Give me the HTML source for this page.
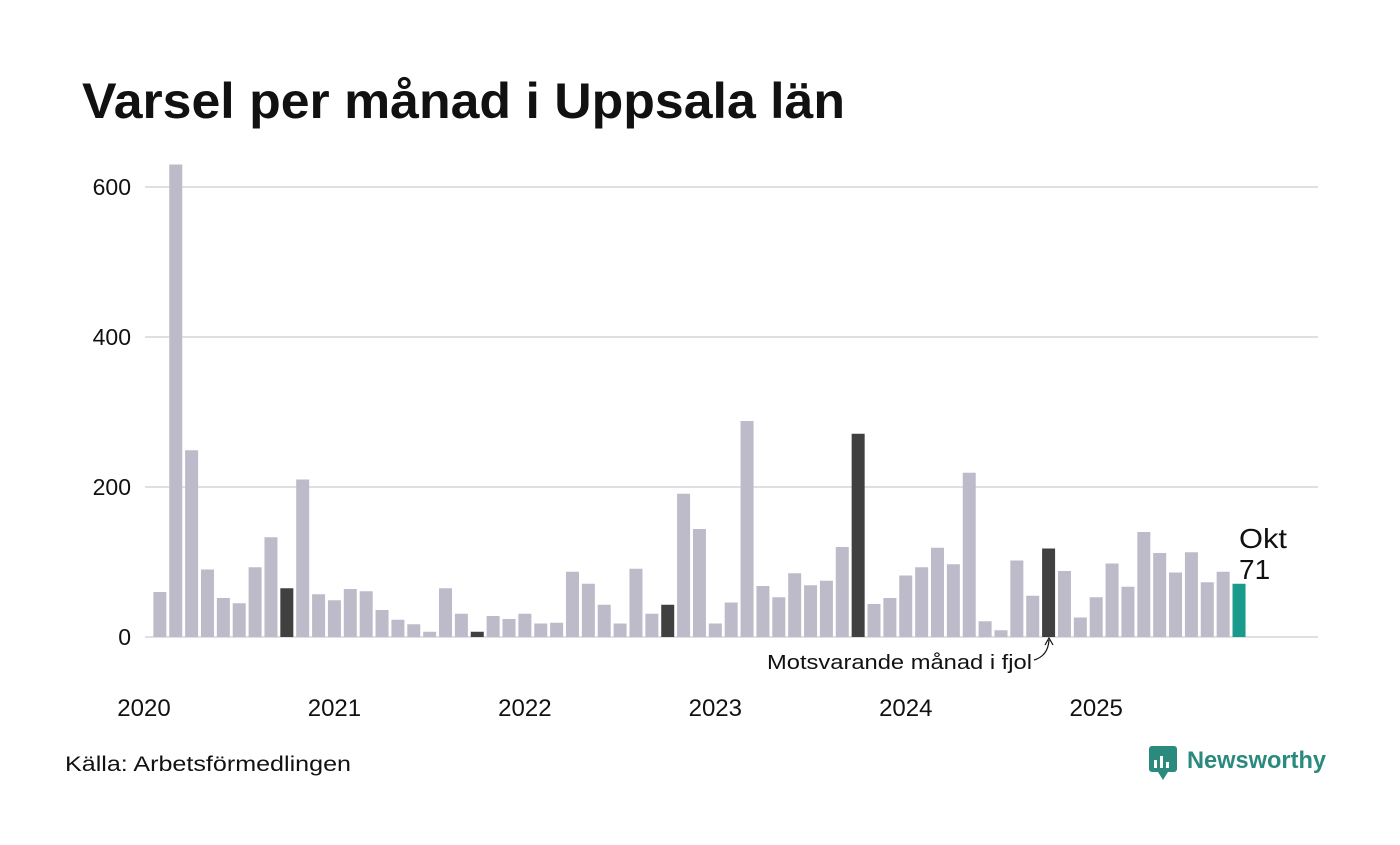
<!DOCTYPE html>
<html><head><meta charset="utf-8"><style>
body{margin:0;background:#fff;width:1400px;height:840px;overflow:hidden;font-family:"Liberation Sans",sans-serif}
</style></head><body>
<svg width="1400" height="840" xmlns="http://www.w3.org/2000/svg">
<text x="82" y="118" font-size="50" font-weight="bold" fill="#111" textLength="763" lengthAdjust="spacingAndGlyphs">Varsel per månad i Uppsala län</text>
<g id="grid"></g><g id="bars"></g><g id="xlab"></g>
<text x="1239" y="548" font-size="28" fill="#111" textLength="48" lengthAdjust="spacingAndGlyphs">Okt</text>
<text x="1239" y="579" font-size="28" fill="#111">71</text>
<text x="767" y="669" font-size="20" fill="#111" textLength="265" lengthAdjust="spacingAndGlyphs">Motsvarande månad i fjol</text>
<path d="M1034 660 Q1048 656 1049 640" fill="none" stroke="#111" stroke-width="1.2"/>
<path d="M1045 645 L1049 638 L1053 645" fill="none" stroke="#111" stroke-width="1.2"/>
<text x="65" y="771" font-size="21" fill="#111" textLength="286" lengthAdjust="spacingAndGlyphs">Källa: Arbetsförmedlingen</text>
<g>
<rect x="1149" y="746" width="28" height="26" rx="3" fill="#2a8a7e"/>
<path d="M1158 772 L1163 780 L1168 772Z" fill="#2a8a7e"/>
<rect x="1154" y="760" width="3" height="8" fill="#fff"/><rect x="1160" y="756" width="3" height="12" fill="#fff"/><rect x="1166" y="762" width="3" height="6" fill="#fff"/>
<text x="1187" y="768" font-size="24" font-weight="bold" fill="#2a8a7e" textLength="139" lengthAdjust="spacingAndGlyphs">Newsworthy</text>
</g>
</svg>
<script>
const values=[0,60,630,249,90,52,45,93,133,65,210,57,
49,64,61,36,23,17,7,65,31,7,28,24,
31,18,19,87,71,43,18,91,31,43,191,144,
18,46,288,68,53,85,69,75,120,271,44,52,
82,93,119,97,219,21,9,102,55,118,88,26,
53,98,67,140,112,86,113,73,87,71];
const yTicks=[0,200,400,600];
const years=["2020","2021","2022","2023","2024","2025"];
const NS="http://www.w3.org/2000/svg";
const y=v=>637-v*0.75, x=i=>144+i*15.87;
const g=document.getElementById('grid'),b=document.getElementById('bars'),xl=document.getElementById('xlab');
function mk(t,a,p){const e=document.createElementNS(NS,t);for(const k in a)e.setAttribute(k,a[k]);p.appendChild(e);return e;}
yTicks.forEach(t=>{
 const l=mk('line',{x1:145,x2:1318,y1:y(t),y2:y(t),stroke:'#e0e0e4','stroke-width':2},g);
 
 
 const tx=mk('text',{x:131,y:y(t)+8,'font-size':23,'text-anchor':'end',fill:'#111'},g);tx.textContent=t;
 
 
});
const last=values.length-1;
values.forEach((v,i)=>{
 const c=i===last?'#1a9a8a':(i%12===last%12?'#404040':'#bdbbc9');
 const r=mk('rect',{x:x(i)-6.5,y:y(v),width:13,height:v*0.75,fill:c},b);
 
 
});
years.forEach((yr,k)=>{
 const t=mk('text',{x:x(k*12),y:716,'font-size':24,'text-anchor':'middle',fill:'#111'},xl);t.textContent=yr;
 
 
});
</script>
</body></html>
